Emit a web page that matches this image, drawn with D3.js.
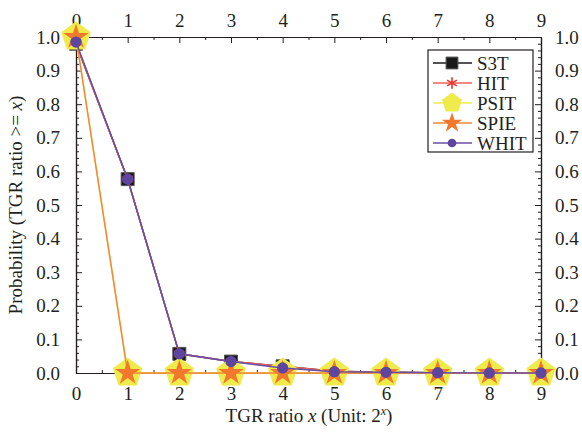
<!DOCTYPE html>
<html>
<head>
<meta charset="utf-8">
<script src="https://cdn.jsdelivr.net/npm/d3@7"></script>
<style>
  body { margin: 0; background: #fff; }
  svg { display: block; font-family: "Liberation Serif", "Times New Roman", serif; }
  .axis path, .axis line { stroke: #231f20; }
  .axis text { fill: #231f20; font-size: 19px; font-family: "Liberation Serif", serif; }
</style>
</head>
<body>
<svg id="chart" width="582" height="434"></svg>
<script>
// ---- data ----
const xValues = [0, 1, 2, 3, 4, 5, 6, 7, 8, 9];
const s3t  = [0.980, 0.577, 0.057, 0.034, 0.020, 0.005, 0.002, 0.001, 0, 0];
const hit  = [0.980, 0.577, 0.057, 0.034, 0.020, 0.005, 0.002, 0.001, 0, 0];
const psit = [1.0, 0, 0, 0, 0, 0, 0, 0, 0, 0];
const spie = [1.0, 0, 0, 0, 0, 0, 0, 0, 0, 0];
const whit = [0.985, 0.577, 0.057, 0.034, 0.015, 0.004, 0.002, 0.001, 0, 0];
const seriesNames = ['S3T', 'HIT', 'PSIT', 'SPIE', 'WHIT'];
const xTicks = [0, 1, 2, 3, 4, 5, 6, 7, 8, 9];
const yTicks = [0, 0.1, 0.2, 0.3, 0.4, 0.5, 0.6, 0.7, 0.8, 0.9, 1.0];

(function () {
  'use strict';

  const W = 582, H = 434;
  const M = { left: 76, right: 41, top: 37, bottom: 61 };

  // custom pentagon symbol, size = radius^2
  const symbolPentagon = {
    draw(ctx, size) {
      const r = Math.sqrt(size);
      for (let i = 0; i < 5; i++) {
        const a = -Math.PI / 2 + i * 2 * Math.PI / 5;
        const px = r * Math.cos(a), py = r * Math.sin(a);
        if (i === 0) ctx.moveTo(px, py); else ctx.lineTo(px, py);
      }
      ctx.closePath();
    }
  };

  // size = plot marker size, lsize = legend marker size
  const STYLE = {
    S3T:  { values: s3t,  line: '#1a1a1a', type: d3.symbolSquare,   size: 169, lsize: 140, fill: '#1a1a1a', stroke: '#555', sw: 1 },
    HIT:  { values: hit,  line: '#f0625a', type: d3.symbolAsterisk, size: 90,  lsize: 90,  fill: 'none',    stroke: '#e8342c', sw: 1.6 },
    PSIT: { values: psit, line: '#ecec50', type: symbolPentagon,    size: 240, lsize: 110, fill: '#eeeb4a', stroke: 'none', sw: 0 },
    SPIE: { values: spie, line: '#f58638', type: d3.symbolStar,     size: 200, lsize: 130, fill: '#f2782e', stroke: 'none', sw: 0 },
    WHIT: { values: whit, line: '#6a4ea6', type: d3.symbolCircle,   size: 100, lsize: 60,  fill: '#5e46a0', stroke: 'none', sw: 0 },
  };

  const svg = d3.select('#chart');

  const x = d3.scaleLinear().domain([0, 9]).range([M.left, W - M.right]);
  const y = d3.scaleLinear().domain([0, 1]).range([H - M.bottom, M.top]);

  const minorX = d3.range(0.5, 9, 1);
  const minorY = d3.range(0, 1.0001, 0.02).filter(v => Math.abs(v * 10 - Math.round(v * 10)) > 1e-6);

  // axes
  const axes = svg.append('g');
  axes.append('g').attr('class', 'axis').attr('transform', `translate(0,${y(0)})`)
    .call(d3.axisBottom(x).tickValues(xTicks).tickSize(-6).tickSizeOuter(0).tickPadding(14).tickFormat(d3.format('d')));
  axes.append('g').attr('class', 'axis').attr('transform', `translate(0,${y(0)})`)
    .call(d3.axisBottom(x).tickValues(minorX).tickSize(-3).tickSizeOuter(0).tickFormat(''));
  axes.append('g').attr('class', 'axis').attr('transform', `translate(0,${y(1)})`)
    .call(d3.axisTop(x).tickValues(xTicks).tickSize(-6).tickSizeOuter(0).tickPadding(10).tickFormat(d3.format('d')));
  axes.append('g').attr('class', 'axis').attr('transform', `translate(0,${y(1)})`)
    .call(d3.axisTop(x).tickValues(minorX).tickSize(-3).tickSizeOuter(0).tickFormat(''));
  axes.append('g').attr('class', 'axis').attr('transform', `translate(${x(0)},0)`)
    .call(d3.axisLeft(y).tickValues(yTicks).tickSize(-6).tickSizeOuter(0).tickPadding(16).tickFormat(d3.format('.1f')));
  axes.append('g').attr('class', 'axis').attr('transform', `translate(${x(0)},0)`)
    .call(d3.axisLeft(y).tickValues(minorY).tickSize(-3).tickSizeOuter(0).tickFormat(''));
  axes.append('g').attr('class', 'axis').attr('transform', `translate(${x(9)},0)`)
    .call(d3.axisRight(y).tickValues(yTicks).tickSize(-6).tickSizeOuter(0).tickPadding(14).tickFormat(d3.format('.1f')));
  axes.append('g').attr('class', 'axis').attr('transform', `translate(${x(9)},0)`)
    .call(d3.axisRight(y).tickValues(minorY).tickSize(-3).tickSizeOuter(0).tickFormat(''));
  axes.selectAll('path.domain').attr('stroke-width', 1.2);

  // series
  const lineGen = d3.line().x((d, i) => x(xValues[i])).y(d => y(d));
  const plot = svg.append('g');
  seriesNames.forEach(name => {
    const s = STYLE[name];
    const g = plot.append('g');
    g.append('path').datum(s.values)
      .attr('d', lineGen).attr('fill', 'none')
      .attr('stroke', s.line).attr('stroke-width', 1.5);
    g.selectAll('path.mk').data(s.values).enter().append('path')
      .attr('class', 'mk')
      .attr('transform', (d, i) => `translate(${x(xValues[i])},${y(d)})`)
      .attr('d', d3.symbol().type(s.type).size(s.size))
      .attr('fill', s.fill).attr('stroke', s.stroke).attr('stroke-width', s.sw);
  });

  // legend
  const lg = svg.append('g').attr('transform', 'translate(428,50)');
  lg.append('rect').attr('width', 105).attr('height', 102)
    .attr('fill', '#fff').attr('stroke', '#231f20').attr('stroke-width', 1.2);
  seriesNames.forEach((name, i) => {
    const s = STYLE[name];
    const yy = 13 + i * 20;
    lg.append('line').attr('x1', 5).attr('x2', 44).attr('y1', yy).attr('y2', yy)
      .attr('stroke', s.line).attr('stroke-width', 1.5);
    lg.append('path')
      .attr('transform', `translate(24,${yy})`)
      .attr('d', d3.symbol().type(s.type).size(s.lsize))
      .attr('fill', s.fill).attr('stroke', s.stroke).attr('stroke-width', s.sw);
    lg.append('text').attr('x', 49).attr('y', yy).attr('dy', '0.35em')
      .attr('font-size', 19).attr('fill', '#231f20').text(name);
  });

  // axis titles
  const xt = svg.append('text').attr('x', 309).attr('y', 422)
    .attr('text-anchor', 'middle').attr('font-size', 19).attr('fill', '#231f20');
  xt.append('tspan').text('TGR ratio ');
  xt.append('tspan').attr('font-style', 'italic').text('x');
  xt.append('tspan').text(' (Unit: 2');
  xt.append('tspan').attr('font-style', 'italic').attr('font-size', 12).attr('dy', -7).text('x');
  xt.append('tspan').attr('dy', 7).text(')');

  const yt = svg.append('text').attr('transform', `translate(22,${(y(0) + y(1)) / 2}) rotate(-90)`)
    .attr('text-anchor', 'middle').attr('font-size', 19).attr('fill', '#231f20');
  yt.append('tspan').text('Probability (TGR ratio >= ');
  yt.append('tspan').attr('font-style', 'italic').text('x');
  yt.append('tspan').text(')');
})();
</script>
</body>
</html>
